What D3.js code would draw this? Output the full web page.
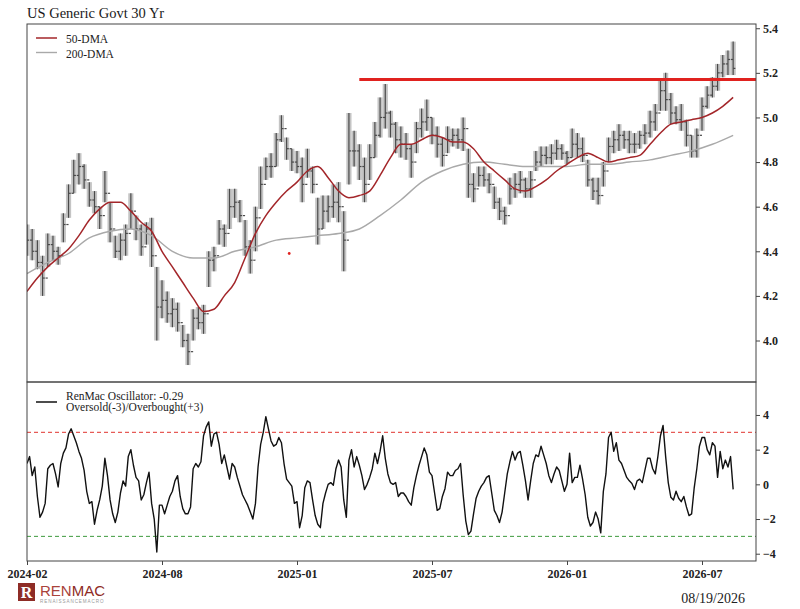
<!DOCTYPE html>
<html>
<head>
<meta charset="utf-8">
<script src="https://cdn.jsdelivr.net/npm/d3@7"></script>
<style>
  body { margin: 0; background: #fff; }
  svg { display: block; font-family: "Liberation Serif", "DejaVu Serif", serif; }
</style>
</head>
<body>
<svg id="chart" width="800" height="609"></svg>
<script>
// weekly bars (week 0 = left edge)
const high = [
  4.52, 4.50, 4.45, 4.38, 4.48, 4.47, 4.42, 4.57, 4.70, 4.81,
  4.84, 4.79, 4.71, 4.67, 4.60, 4.76, 4.62, 4.47, 4.48, 4.52,
  4.66, 4.56, 4.52, 4.53, 4.55, 4.33, 4.27, 4.22, 4.19, 4.17,
  4.07, 4.03, 4.14, 4.15, 4.16, 4.40, 4.42, 4.54, 4.52, 4.68,
  4.68, 4.63, 4.54, 4.45, 4.60, 4.78, 4.82, 4.84, 4.93, 5.01,
  4.91, 4.86, 4.85, 4.82, 4.86, 4.78, 4.64, 4.65, 4.65, 4.70,
  4.71, 4.58, 5.02, 4.94, 4.88, 4.82, 4.88, 4.98, 5.09, 5.15,
  5.03, 4.98, 4.96, 4.93, 4.88, 4.98, 5.04, 5.08, 5.00, 4.96,
  4.91, 4.96, 4.95, 4.95, 5.00, 4.86, 4.75, 4.78, 4.78, 4.75,
  4.69, 4.64, 4.60, 4.73, 4.75, 4.76, 4.73, 4.76, 4.85, 4.87,
  4.87, 4.88, 4.90, 4.88, 4.85, 4.95, 4.93, 4.91, 4.81, 4.73,
  4.73, 4.80, 4.91, 4.94, 4.97, 4.94, 4.94, 4.93, 4.94, 4.97,
  5.03, 5.06, 5.17, 5.20, 5.11, 5.05, 5.06, 4.99, 4.92, 4.95,
  5.09, 5.14, 5.18, 5.24, 5.28, 5.30, 5.34
];
const low = [
  4.38, 4.36, 4.32, 4.20, 4.33, 4.36, 4.34, 4.44, 4.55, 4.66,
  4.70, 4.68, 4.60, 4.57, 4.50, 4.62, 4.44, 4.37, 4.36, 4.38,
  4.50, 4.45, 4.38, 4.43, 4.33, 4.00, 4.10, 4.08, 4.06, 4.04,
  3.97, 3.89, 4.00, 4.05, 4.03, 4.24, 4.31, 4.43, 4.42, 4.50,
  4.55, 4.53, 4.38, 4.30, 4.40, 4.59, 4.72, 4.73, 4.78, 4.89,
  4.81, 4.76, 4.75, 4.62, 4.73, 4.66, 4.43, 4.50, 4.53, 4.55,
  4.53, 4.31, 4.70, 4.78, 4.72, 4.62, 4.72, 4.82, 4.91, 4.95,
  4.91, 4.84, 4.82, 4.81, 4.73, 4.84, 4.91, 4.94, 4.88, 4.82,
  4.78, 4.84, 4.87, 4.86, 4.85, 4.64, 4.62, 4.69, 4.69, 4.66,
  4.59, 4.54, 4.52, 4.61, 4.64, 4.66, 4.64, 4.64, 4.76, 4.78,
  4.79, 4.79, 4.81, 4.81, 4.79, 4.82, 4.82, 4.80, 4.69, 4.63,
  4.61, 4.69, 4.80, 4.84, 4.85, 4.86, 4.84, 4.84, 4.86, 4.88,
  4.91, 4.94, 5.03, 5.03, 4.97, 4.97, 4.94, 4.87, 4.82, 4.82,
  4.94, 5.04, 5.09, 5.12, 5.18, 5.19, 5.19
];
const close = [
  4.45, 4.40, 4.35, 4.28, 4.43, 4.40, 4.38, 4.52, 4.66, 4.74,
  4.78, 4.72, 4.63, 4.60, 4.56, 4.66, 4.50, 4.40, 4.45, 4.48,
  4.58, 4.50, 4.42, 4.50, 4.38, 4.15, 4.18, 4.12, 4.14, 4.08,
  4.00, 3.95, 4.10, 4.08, 4.12, 4.36, 4.38, 4.50, 4.48, 4.60,
  4.62, 4.56, 4.42, 4.36, 4.55, 4.70, 4.78, 4.78, 4.90, 4.95,
  4.86, 4.80, 4.78, 4.70, 4.76, 4.70, 4.50, 4.58, 4.60, 4.62,
  4.60, 4.45, 4.85, 4.85, 4.78, 4.70, 4.82, 4.92, 5.00, 5.02,
  4.97, 4.90, 4.88, 4.86, 4.80, 4.95, 4.98, 5.00, 4.92, 4.88,
  4.83, 4.90, 4.92, 4.90, 4.95, 4.70, 4.68, 4.74, 4.72, 4.70,
  4.62, 4.58, 4.56, 4.68, 4.70, 4.72, 4.68, 4.72, 4.80, 4.83,
  4.82, 4.84, 4.86, 4.84, 4.82, 4.88, 4.86, 4.83, 4.72, 4.67,
  4.65, 4.76, 4.87, 4.90, 4.92, 4.90, 4.88, 4.88, 4.92, 4.93,
  4.98, 5.02, 5.12, 5.08, 5.02, 4.99, 4.98, 4.92, 4.85, 4.92,
  5.05, 5.10, 5.14, 5.20, 5.24, 5.26, 5.22
];

// 50-DMA, one value every 2 weeks
const ma50 = [
  4.22, 4.28, 4.33, 4.37, 4.41, 4.47, 4.54, 4.59, 4.62, 4.62,
  4.58, 4.53, 4.49, 4.40, 4.33, 4.26, 4.19, 4.13, 4.14, 4.20,
  4.26, 4.37, 4.48, 4.56, 4.62, 4.67, 4.71, 4.76, 4.78, 4.73,
  4.67, 4.64, 4.65, 4.67, 4.74, 4.82, 4.88, 4.88, 4.90, 4.92,
  4.91, 4.89, 4.89, 4.86, 4.80, 4.76, 4.72, 4.68, 4.67, 4.69,
  4.72, 4.76, 4.79, 4.82, 4.84, 4.82, 4.80, 4.81, 4.82, 4.83,
  4.88, 4.93, 4.97, 4.98, 4.99, 5.00, 5.02, 5.05, 5.09
];
// 200-DMA, one value every 4 weeks
const ma200 = [
  4.30, 4.35, 4.39, 4.46, 4.49, 4.50, 4.47, 4.40, 4.37, 4.37,
  4.40, 4.42, 4.45, 4.46, 4.47, 4.48, 4.50, 4.56, 4.63, 4.71,
  4.76, 4.79, 4.80, 4.79, 4.78, 4.78, 4.78, 4.79, 4.79, 4.80,
  4.81, 4.83, 4.85, 4.88, 4.92
];

// RenMac oscillator, one value every half week
const osc = [
  1.2, 1.6, 0.5, 1.0, -0.7, -1.9, -1.6, -1.1, 0.9, 1.1,
  1.2, 0.6, -0.15, 1.2, 1.8, 2.1, 2.9, 3.2, 2.8, 2.4,
  1.9, 1.5, 0.8, -0.4, -1.1, -1.0, -2.3, -1.5, -0.9, -0.1,
  1.5, 0.5, -0.9, -1.7, -2.2, -1.6, -0.5, 0.2, -0.1, 1.6,
  2.0, 1.1, 0.4, 0.2, -0.9, -0.6, 0.1, 0.7, -1.1, -2.0,
  -3.9, -1.2, -1.2, -1.7, -1.2, -0.7, -0.4, 0.2, 0.5, -0.7,
  -1.4, -1.7, -1.7, -1.3, 0.9, 1.2, 1.0, 1.3, 2.8, 3.3,
  3.6, 2.2, 2.9, 3.0, 2.3, 1.2, 1.7, 1.0, 0.3, 1.2,
  1.0, 0.4, -0.1, -0.6, -0.9, -1.2, -1.6, -2.0, -1.1, 1.0,
  2.3, 3.0, 3.9, 3.2, 2.5, 2.2, 2.3, 2.7, 2.4, 1.2,
  0.3, 0.1, -0.1, -1.1, -1.0, -2.5, -1.8, -0.2, 0.2, 0.1,
  -0.9, -1.8, -2.3, -2.5, -1.1, -0.5, 0.0, 0.1, -0.05, 0.9,
  1.4, 1.0, -0.9, -1.9, 1.4, 2.0, 1.0, 1.6, 1.1, 0.5,
  -0.3, 0.0, 0.4, 0.9, 1.8, 1.2, 1.9, 2.8, 1.5, 0.6,
  0.1, 0.0, 0.1, -0.7, -0.5, -0.5, -0.7, -1.0, -1.2, -0.2,
  0.5, 1.1, 1.6, 2.1, 1.7, 0.7, 0.5, -0.5, -1.5, -1.4,
  -0.7, -0.25, 0.7, 0.5, 0.5, 0.8, 0.9, 1.2, -0.6, -2.1,
  -2.9, -2.7, -1.7, -0.8, -0.4, -0.1, 0.1, 0.4, 0.5, -0.5,
  -1.5, -1.8, -2.2, -1.6, -0.5, 0.6, 1.3, 1.9, 1.4, 1.8,
  1.9, 1.1, 0.2, -0.9, 0.2, 1.2, 1.7, 1.6, 2.2, 1.7,
  1.2, 0.5, 0.1, 0.6, 1.0, 0.8, 0.2, -0.4, 0.0, 1.8,
  0.1, 0.4, 0.4, 1.1, 0.3, -0.6, -1.9, -2.4, -2.2, -1.6,
  -2.0, -2.8, -0.4, 0.6, 2.7, 3.0, 1.9, 2.4, 1.4, 1.2,
  0.8, 0.4, 0.2, 0.05, -0.3, 0.2, 0.3, 0.1, 0.8, 1.5,
  1.5, 0.9, 0.6, 1.6, 2.8, 3.4, 1.6, 0.1, -0.75, -0.9,
  -0.4, -0.8, -1.0, -0.7, -1.3, -1.8, -1.7, -0.2, 0.9, 2.2,
  2.7, 2.7, 2.0, 1.7, 2.4, 2.2, 0.4, 1.9, 0.9, 1.4,
  1.0, 1.6, -0.29
];

const ma50Step = 2;
const ma200Step = 4;
const oscStep = 0.5;

const resistanceLevel = 5.17;
const resistanceFromWeek = 64;
const markerWeek = 50.5;
const markerValue = 4.39;

const xTickWeeks = [0, 26, 52, 78, 104, 130];
const xTickLabels = ["2024-02", "2024-08", "2025-01", "2025-07", "2026-01", "2026-07"];
const priceTicks = [4.0, 4.2, 4.4, 4.6, 4.8, 5.0, 5.2, 5.4];
const oscTicks = [-4, -2, 0, 2, 4];
const overbought = 3;
const oversold = -3;
const oscLabel = "RenMac Oscillator: -0.29";
const oscBandLabel = "Oversold(-3)/Overbought(+3)";
const asOfDate = "08/19/2026";

const pLeft = 27, pRight = 756, pTop = 24, pMid = 382, pBottom = 561;

const svg = d3.select("#chart");

const x = d3.scaleLinear().domain([0, 140.4]).range([pLeft, pRight]);
const y = d3.scaleLinear().domain([3.814, 5.419]).range([pMid, pTop]);
const yo = d3.scaleLinear().domain([-4.42, 5.9]).range([pBottom, pMid]);
const barStep = x(1) - x(0);

const defs = svg.append("defs");
defs.append("clipPath").attr("id", "clip-main")
  .append("rect").attr("x", pLeft).attr("y", pTop).attr("width", pRight - pLeft).attr("height", pMid - pTop);
defs.append("clipPath").attr("id", "clip-osc")
  .append("rect").attr("x", pLeft).attr("y", pMid).attr("width", pRight - pLeft).attr("height", pBottom - pMid);

// Title
svg.append("text")
  .attr("x", pLeft)
  .attr("y", 18)
  .style("font-size", "14.5px")
  .attr("fill", "#1a1a1a")
  .text("US Generic Govt 30 Yr");

// ---- price panel ----
const main = svg.append("g").attr("clip-path", "url(#clip-main)");

// light band for each week's range, dark bar on top
main.append("g")
  .selectAll("rect")
  .data(high)
  .join("rect")
  .attr("x", (d, i) => x(i) - barStep / 2)
  .attr("width", barStep)
  .attr("y", (d) => y(d))
  .attr("height", (d, i) => y(low[i]) - y(d))
  .attr("fill", "#c4c4c4");

const bars = main.append("g").attr("stroke", "#4a4a4a").attr("stroke-width", 1.2);
bars.selectAll("line.hl")
  .data(high)
  .join("line")
  .attr("class", "hl")
  .attr("x1", (d, i) => x(i))
  .attr("x2", (d, i) => x(i))
  .attr("y1", (d) => y(d))
  .attr("y2", (d, i) => y(low[i]));
bars.selectAll("line.cl")
  .data(close)
  .join("line")
  .attr("class", "cl")
  .attr("x1", (d, i) => x(i))
  .attr("x2", (d, i) => x(i) + 2.2)
  .attr("y1", (d) => y(d))
  .attr("y2", (d) => y(d));
bars.selectAll("line.op")
  .data(close)
  .join("line")
  .attr("class", "op")
  .attr("x1", (d, i) => x(i) - 2.2)
  .attr("x2", (d, i) => x(i))
  .attr("y1", (d, i) => y(close[Math.max(0, i - 1)]))
  .attr("y2", (d, i) => y(close[Math.max(0, i - 1)]));

main.append("path")
  .datum(ma200)
  .attr("fill", "none")
  .attr("stroke", "#a9a9a9")
  .attr("stroke-width", 1.4)
  .attr("d", d3.line().x((d, i) => x(i * ma200Step)).y((d) => y(d)).curve(d3.curveMonotoneX));

main.append("path")
  .datum(ma50)
  .attr("fill", "none")
  .attr("stroke", "#a3262a")
  .attr("stroke-width", 1.5)
  .attr("d", d3.line().x((d, i) => x(i * ma50Step)).y((d) => y(d)).curve(d3.curveMonotoneX));

// resistance line
main.append("line")
  .attr("x1", x(resistanceFromWeek))
  .attr("x2", pRight)
  .attr("y1", y(resistanceLevel))
  .attr("y2", y(resistanceLevel))
  .attr("stroke", "#e0221f")
  .attr("stroke-width", 3);

main.append("circle")
  .attr("cx", x(markerWeek))
  .attr("cy", y(markerValue))
  .attr("r", 1.4)
  .attr("fill", "#e0221f");

// legend
const legend = svg.append("g").style("font-size", "11.5px").attr("fill", "#222");
legend.append("line").attr("x1", 36).attr("x2", 57).attr("y1", 38).attr("y2", 38)
  .attr("stroke", "#a3262a").attr("stroke-width", 1.5);
legend.append("text").attr("x", 66).attr("y", 43).text("50-DMA");
legend.append("line").attr("x1", 36).attr("x2", 57).attr("y1", 52.5).attr("y2", 52.5)
  .attr("stroke", "#a9a9a9").attr("stroke-width", 1.4);
legend.append("text").attr("x", 66).attr("y", 57.5).text("200-DMA");

// ---- oscillator panel ----
const lower = svg.append("g").attr("clip-path", "url(#clip-osc)");

lower.append("line")
  .attr("x1", pLeft).attr("x2", pRight)
  .attr("y1", yo(overbought)).attr("y2", yo(overbought))
  .attr("stroke", "#e0332e").attr("stroke-width", 1).attr("stroke-dasharray", "4,3");
lower.append("line")
  .attr("x1", pLeft).attr("x2", pRight)
  .attr("y1", yo(oversold)).attr("y2", yo(oversold))
  .attr("stroke", "#3d9a3d").attr("stroke-width", 1).attr("stroke-dasharray", "4,3");

lower.append("path")
  .datum(osc)
  .attr("fill", "none")
  .attr("stroke", "#111")
  .attr("stroke-width", 1.4)
  .attr("stroke-linejoin", "round")
  .attr("d", d3.line().x((d, i) => x(i * oscStep)).y((d) => yo(d)));

const legend2 = svg.append("g").style("font-size", "11.5px").attr("fill", "#222");
legend2.append("line").attr("x1", 36).attr("x2", 57).attr("y1", 402).attr("y2", 402)
  .attr("stroke", "#111").attr("stroke-width", 1.5);
legend2.append("text").attr("x", 66).attr("y", 400).text(oscLabel);
legend2.append("text").attr("x", 66).attr("y", 411).text(oscBandLabel);

// ---- frames and axes ----
svg.append("rect")
  .attr("x", pLeft).attr("y", pTop).attr("width", pRight - pLeft).attr("height", pMid - pTop)
  .attr("fill", "none").attr("stroke", "#444").attr("stroke-width", 1);
svg.append("rect")
  .attr("x", pLeft).attr("y", pMid).attr("width", pRight - pLeft).attr("height", pBottom - pMid)
  .attr("fill", "none").attr("stroke", "#444").attr("stroke-width", 1);

function styleAxis(g, weight) {
  g.select(".domain").remove();
  g.selectAll(".tick line").attr("stroke", "#444");
  g.selectAll(".tick text")
    .attr("fill", "#222")
    .style("font-family", "'Liberation Serif', serif")
    .style("font-size", "12px")
    .style("font-weight", weight);
}

svg.append("g")
  .attr("transform", `translate(${pRight},0)`)
  .call(d3.axisRight(y).tickValues(priceTicks).tickFormat(d3.format(".1f")).tickSize(4).tickPadding(3))
  .call((g) => styleAxis(g, "bold"));

svg.append("g")
  .attr("transform", `translate(${pRight},0)`)
  .call(d3.axisRight(yo).tickValues(oscTicks).tickFormat(d3.format("d")).tickSize(4).tickPadding(3))
  .call((g) => styleAxis(g, "bold"));

svg.append("g")
  .attr("transform", `translate(0,${pBottom})`)
  .call(d3.axisBottom(x).tickValues(xTickWeeks).tickFormat((d, i) => xTickLabels[i]).tickSize(4).tickPadding(4))
  .call((g) => styleAxis(g, "bold"));

// ---- footer: logo and date ----
const logo = svg.append("g");
logo.append("rect").attr("x", 18).attr("y", 583).attr("width", 17).attr("height", 18).attr("fill", "#8e2c26");
logo.append("text")
  .attr("x", 26.5).attr("y", 598)
  .attr("text-anchor", "middle")
  .attr("fill", "#fff")
  .style("font-size", "16px")
  .style("font-weight", "bold")
  .text("R");
const brand = logo.append("text")
  .attr("x", 40).attr("y", 596)
  .style("font-family", "'Liberation Sans', sans-serif")
  .style("font-size", "15px");
brand.append("tspan").attr("fill", "#a9433b").text("REN");
brand.append("tspan").attr("fill", "#8e2c26").text("MAC");
logo.append("text")
  .attr("x", 40).attr("y", 603)
  .style("font-family", "'Liberation Sans', sans-serif")
  .style("font-size", "4.6px")
  .style("letter-spacing", "0.9px")
  .attr("fill", "#9a9a9a")
  .text("RENAISSANCEMACRO");

svg.append("text")
  .attr("x", 745)
  .attr("y", 603)
  .attr("text-anchor", "end")
  .attr("fill", "#222")
  .style("font-size", "14px")
  .text(asOfDate);
</script>
</body>
</html>
